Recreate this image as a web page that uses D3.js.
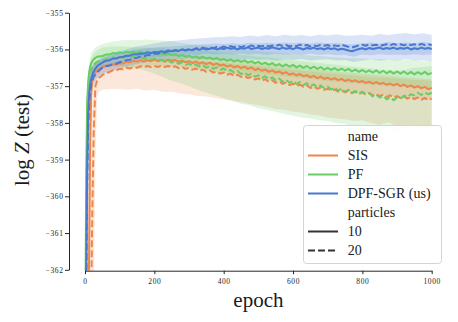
<!DOCTYPE html>
<html><head><meta charset="utf-8">
<script src="https://cdn.jsdelivr.net/npm/d3@7"></script>
<style>body{margin:0;background:#fff}</style>
</head><body><svg id="c" width="458" height="322"></svg>
<script>
// ---------------- data ----------------
const methods = ["SIS", "PF", "DPF-SGR (us)"];
const particles = ["10", "20"];
const xTicks = [0, 200, 400, 600, 800, 1000];
const yTicks = [-362, -361, -360, -359, -358, -357, -356, -355];

const epochs = [0,3,6,9,12,15,18,21,25,30,35,40,
50,60,70,80,90,100,110,120,130,140,150,160,170,180,190,200,210,220,230,240,
250,260,270,280,290,300,310,320,330,340,350,360,370,380,390,400,410,420,430,440,
450,460,470,480,490,500,510,520,530,540,550,560,570,580,590,600,610,620,630,640,
650,660,670,680,690,700,710,720,730,740,750,760,770,780,790,800,810,820,830,840,
850,860,870,880,890,900,910,920,930,940,950,960,970,980,990,1000];

const sis10 = [-372,-370,-367,-364,-361.5,-358.5,-357.2,-356.85,-356.7,-356.62,-356.57,-356.53,
-356.48,-356.45,-356.44,-356.41,-356.41,-356.38,-356.38,-356.34,-356.35,-356.31,
-356.33,-356.29,-356.33,-356.29,-356.32,-356.28,-356.32,-356.29,-356.33,-356.28,
-356.31,-356.29,-356.34,-356.30,-356.35,-356.32,-356.37,-356.33,-356.39,-356.35,
-356.40,-356.36,-356.42,-356.38,-356.44,-356.41,-356.47,-356.43,-356.49,-356.45,
-356.51,-356.47,-356.53,-356.49,-356.56,-356.52,-356.58,-356.55,-356.61,-356.57,
-356.63,-356.60,-356.66,-356.62,-356.69,-356.65,-356.71,-356.67,-356.73,-356.70,
-356.76,-356.72,-356.78,-356.74,-356.80,-356.77,-356.82,-356.78,-356.84,-356.80,
-356.86,-356.82,-356.87,-356.84,-356.89,-356.86,-356.91,-356.88,-356.93,-356.89,
-356.94,-356.91,-356.96,-356.93,-356.98,-356.94,-357.00,-356.96,-357.02,-356.98,
-357.04,-357.00,-357.06,-357.02,-357.08,-357.05];
const sis20 = [-375,-373,-370,-368,-366,-364,-362.6,-360.5,-358.3,-357.0,-356.85,-356.78,
-356.70,-356.64,-356.62,-356.57,-356.57,-356.53,-356.54,-356.50,-356.52,-356.48,
-356.50,-356.46,-356.49,-356.45,-356.48,-356.45,-356.48,-356.44,-356.48,-356.45,
-356.49,-356.46,-356.51,-356.48,-356.53,-356.50,-356.55,-356.52,-356.58,-356.55,
-356.61,-356.57,-356.63,-356.60,-356.66,-356.63,-356.69,-356.66,-356.72,-356.69,
-356.75,-356.72,-356.78,-356.75,-356.82,-356.79,-356.85,-356.81,-356.88,-356.84,
-356.91,-356.87,-356.94,-356.90,-356.97,-356.93,-356.99,-356.96,-357.02,-356.98,
-357.05,-357.01,-357.07,-357.04,-357.10,-357.07,-357.12,-357.09,-357.15,-357.11,
-357.17,-357.13,-357.19,-357.15,-357.21,-357.17,-357.23,-357.19,-357.25,-357.21,
-357.27,-357.23,-357.29,-357.25,-357.31,-357.27,-357.32,-357.28,-357.34,-357.30,
-357.35,-357.31,-357.37,-357.32,-357.38,-357.34];
const pf10 = [-366,-360,-357.5,-356.9,-356.62,-356.47,-356.38,-356.32,-356.27,-356.23,-356.2,-356.19,
-356.18,-356.14,-356.14,-356.10,-356.11,-356.08,-356.10,-356.06,-356.09,-356.06,
-356.09,-356.06,-356.10,-356.07,-356.11,-356.09,-356.13,-356.10,-356.14,-356.11,
-356.15,-356.13,-356.18,-356.15,-356.20,-356.17,-356.22,-356.19,-356.24,-356.20,
-356.25,-356.22,-356.27,-356.23,-356.29,-356.26,-356.31,-356.27,-356.33,-356.29,
-356.34,-356.30,-356.36,-356.32,-356.38,-356.34,-356.40,-356.36,-356.42,-356.37,
-356.44,-356.40,-356.46,-356.41,-356.47,-356.42,-356.49,-356.44,-356.50,-356.45,
-356.52,-356.47,-356.53,-356.48,-356.55,-356.50,-356.56,-356.51,-356.57,-356.52,
-356.58,-356.53,-356.60,-356.55,-356.61,-356.56,-356.62,-356.57,-356.63,-356.57,
-356.64,-356.58,-356.65,-356.59,-356.66,-356.60,-356.66,-356.60,-356.67,-356.61,
-356.68,-356.62,-356.67,-356.61,-356.68,-356.64];
const pf20 = [-367,-361,-357.9,-357.1,-356.8,-356.65,-356.55,-356.48,-356.42,-356.37,-356.34,-356.32,
-356.30,-356.27,-356.26,-356.22,-356.24,-356.20,-356.23,-356.19,-356.23,-356.20,
-356.24,-356.21,-356.26,-356.23,-356.28,-356.25,-356.31,-356.28,-356.33,-356.30,
-356.36,-356.33,-356.39,-356.35,-356.42,-356.39,-356.45,-356.41,-356.47,-356.43,
-356.50,-356.46,-356.53,-356.49,-356.56,-356.52,-356.60,-356.56,-356.63,-356.59,
-356.67,-356.62,-356.70,-356.66,-356.74,-356.70,-356.78,-356.73,-356.81,-356.76,
-356.84,-356.79,-356.88,-356.83,-356.91,-356.86,-356.94,-356.89,-356.97,-356.92,
-357.00,-356.95,-357.03,-356.98,-357.06,-357.01,-357.09,-357.04,-357.12,-357.07,
-357.15,-357.10,-357.18,-357.13,-357.21,-357.15,-357.23,-357.19,-357.28,-357.23,
-357.31,-357.26,-357.36,-357.30,-357.38,-357.31,-357.34,-357.26,-357.30,-357.22,
-357.25,-357.18,-357.24,-357.17,-357.22,-357.18];
const dpf10 = [-368,-363,-359.5,-357.8,-357.2,-356.95,-356.8,-356.7,-356.6,-356.52,-356.46,-356.42,
-356.36,-356.31,-356.30,-356.25,-356.25,-356.21,-356.20,-356.17,-356.17,-356.13,
-356.14,-356.11,-356.12,-356.08,-356.10,-356.07,-356.08,-356.05,-356.07,-356.03,
-356.05,-356.02,-356.04,-356.00,-356.03,-356.00,-356.02,-355.98,-356.01,-355.97,
-356.00,-355.98,-355.96,-356.00,-355.97,-355.99,-355.95,-355.98,-355.96,-356.00,
-355.96,-355.98,-355.94,-355.99,-355.97,-355.95,-355.99,-355.96,-355.98,-355.94,
-355.97,-355.99,-355.95,-355.98,-355.96,-355.99,-355.95,-355.97,-356.00,-355.96,
-355.98,-355.95,-355.99,-355.97,-356.00,-355.96,-355.99,-355.97,-356.01,-355.98,
-356.00,-356.03,-356.05,-356.02,-355.99,-355.97,-356.00,-355.96,-355.99,-355.97,
-355.95,-355.99,-355.96,-355.98,-355.95,-355.99,-355.96,-355.98,-355.95,-356.00,
-355.97,-355.99,-355.95,-355.98,-355.96,-355.99];
const dpf20 = [-368,-363.5,-360,-358.2,-357.5,-357.15,-356.95,-356.85,-356.75,-356.68,-356.62,-356.58,
-356.50,-356.46,-356.44,-356.40,-356.39,-356.35,-356.33,-356.29,-356.28,-356.24,
-356.23,-356.19,-356.19,-356.15,-356.15,-356.11,-356.12,-356.08,-356.09,-356.05,
-356.06,-356.02,-356.04,-356.00,-356.02,-355.99,-356.01,-355.97,-355.99,-355.95,
-355.98,-355.94,-355.97,-355.93,-355.96,-355.92,-355.95,-355.91,-355.94,-355.90,
-355.94,-355.91,-355.93,-355.89,-355.93,-355.90,-355.92,-355.88,-355.92,-355.89,
-355.91,-355.87,-355.91,-355.88,-355.92,-355.89,-355.91,-355.87,-355.90,-355.88,
-355.92,-355.89,-355.91,-355.87,-355.90,-355.88,-355.92,-355.89,-355.91,-355.87,
-355.90,-355.93,-355.95,-355.92,-355.89,-355.87,-355.90,-355.86,-355.89,-355.87,
-355.91,-355.88,-355.86,-355.89,-355.85,-355.88,-355.86,-355.89,-355.85,-355.88,
-355.86,-355.89,-355.85,-355.88,-355.86,-355.88];

const bandEpochs = [0,3,6,9,12,15,18,21,25,30,35,40,
50,75,100,125,150,175,200,225,250,275,300,325,350,375,400,425,450,475,500,525,
550,575,600,625,650,675,700,725,750,775,800,825,850,875,900,925,950,975,1000];

const sis10Lo = [-376,-374,-371,-368,-365,-361.5,-358.5,-357.3,-356.95,-356.82,-356.75,-356.7,
-356.64,-356.58,-356.53,-356.50,-356.47,-356.45,-356.44,-356.45,-356.46,-356.48,
-356.50,-356.53,-356.57,-356.60,-356.64,-356.67,-356.71,-356.75,-356.79,-356.83,
-356.86,-356.90,-356.94,-356.97,-357.00,-357.04,-357.07,-357.10,-357.13,-357.16,
-357.18,-357.21,-357.23,-357.26,-357.28,-357.30,-357.33,-357.35,-357.38];
const sis10Hi = [-368,-366,-363,-360,-358.5,-357.3,-356.75,-356.55,-356.45,-356.4,-356.36,-356.33,
-356.30,-356.25,-356.22,-356.18,-356.16,-356.15,-356.13,-356.13,-356.13,-356.15,
-356.16,-356.18,-356.20,-356.22,-356.25,-356.28,-356.30,-356.33,-356.36,-356.39,
-356.42,-356.45,-356.48,-356.50,-356.53,-356.55,-356.58,-356.60,-356.62,-356.64,
-356.66,-356.68,-356.70,-356.72,-356.74,-356.76,-356.78,-356.80,-356.82];
const sis20Lo = [-380,-378,-375,-373,-371,-369,-367,-365,-363,-359,-357.3,-357.15,
-357.10,-357.08,-357.08,-357.10,-357.07,-357.12,-357.10,-357.15,-357.15,-357.20,
-357.22,-357.27,-357.28,-357.32,-357.36,-357.40,-357.44,-357.48,-357.52,-357.56,
-357.62,-357.64,-357.70,-357.72,-357.77,-357.80,-357.85,-357.88,-357.90,-357.95,
-357.93,-358.00,-358.05,-357.98,-358.10,-358.05,-358.12,-358.10,-358.15];
const sis20Hi = [-372,-370,-367,-365,-363,-361,-359,-357.6,-356.9,-356.65,-356.55,-356.48,
-356.42,-356.35,-356.30,-356.28,-356.27,-356.25,-356.25,-356.25,-356.26,-356.27,
-356.28,-356.30,-356.32,-356.34,-356.36,-356.38,-356.41,-356.43,-356.46,-356.48,
-356.51,-356.53,-356.56,-356.58,-356.60,-356.62,-356.65,-356.67,-356.69,-356.71,
-356.73,-356.75,-356.77,-356.78,-356.80,-356.81,-356.83,-356.84,-356.86];
const pf10Lo = [-369,-364,-359.5,-357.8,-357.1,-356.85,-356.7,-356.6,-356.5,-356.45,-356.4,-356.37,
-356.33,-356.28,-356.25,-356.23,-356.23,-356.25,-356.27,-356.30,-356.32,-356.36,
-356.38,-356.42,-356.45,-356.48,-356.52,-356.55,-356.58,-356.62,-356.64,-356.68,
-356.70,-356.73,-356.76,-356.78,-356.80,-356.84,-356.86,-356.88,-356.90,-356.93,
-356.94,-356.96,-356.98,-357.00,-357.00,-357.02,-357.04,-357.03,-357.05];
const pf10Hi = [-364,-359,-357.2,-356.6,-356.35,-356.2,-356.1,-356.05,-356.0,-355.95,-355.92,-355.9,
-355.85,-355.8,-355.76,-355.74,-355.75,-355.73,-355.75,-355.76,-355.78,-355.82,
-355.85,-355.87,-355.90,-355.92,-355.95,-355.97,-356.00,-356.02,-356.05,-356.07,
-356.09,-356.11,-356.13,-356.15,-356.17,-356.18,-356.20,-356.21,-356.23,-356.24,
-356.25,-356.26,-356.27,-356.28,-356.28,-356.29,-356.30,-356.30,-356.31];
const pf20Lo = [-370,-365,-360,-358.3,-357.5,-357.15,-356.95,-356.82,-356.72,-356.65,-356.6,-356.56,
-356.52,-356.47,-356.46,-356.48,-356.52,-356.58,-356.66,-356.75,-356.85,-356.92,
-357.00,-357.10,-357.18,-357.25,-357.32,-357.40,-357.48,-357.52,-357.60,-357.65,
-357.70,-357.76,-357.80,-357.85,-357.88,-357.92,-357.95,-358.00,-358.03,-358.10,
-358.08,-358.15,-358.20,-358.12,-358.22,-358.15,-358.10,-358.18,-358.05];
const pf20Hi = [-365,-359,-357.4,-356.8,-356.5,-356.35,-356.25,-356.18,-356.12,-356.07,-356.03,-356.0,
-355.95,-355.92,-355.92,-355.93,-355.95,-355.95,-355.97,-355.97,-356.00,-356.00,
-356.02,-356.03,-356.05,-356.07,-356.10,-356.12,-356.15,-356.17,-356.20,-356.22,
-356.25,-356.27,-356.30,-356.32,-356.35,-356.37,-356.40,-356.42,-356.45,-356.47,
-356.50,-356.52,-356.55,-356.57,-356.58,-356.55,-356.50,-356.48,-356.45];
const dpf10Lo = [-370,-366,-362,-359,-357.8,-357.3,-357.05,-356.9,-356.8,-356.7,-356.62,-356.57,
-356.50,-356.42,-356.36,-356.30,-356.27,-356.24,-356.20,-356.20,-356.17,-356.17,
-356.14,-356.15,-356.12,-356.14,-356.12,-356.14,-356.11,-356.14,-356.12,-356.15,
-356.12,-356.14,-356.13,-356.15,-356.12,-356.15,-356.13,-356.16,-356.15,-356.20,
-356.14,-356.16,-356.13,-356.15,-356.14,-356.16,-356.13,-356.15,-356.14];
const dpf10Hi = [-366,-360,-357.5,-356.9,-356.7,-356.6,-356.52,-356.47,-356.42,-356.37,-356.33,-356.3,
-356.24,-356.16,-356.10,-356.04,-356.00,-355.97,-355.95,-355.93,-355.92,-355.90,
-355.88,-355.87,-355.86,-355.84,-355.85,-355.83,-355.85,-355.82,-355.84,-355.82,
-355.84,-355.81,-355.83,-355.82,-355.84,-355.81,-355.83,-355.82,-355.85,-355.86,
-355.83,-355.81,-355.84,-355.80,-355.83,-355.81,-355.84,-355.80,-355.83];
const dpf20Lo = [-371,-367,-363,-360,-358.5,-357.7,-357.3,-357.1,-356.95,-356.87,-356.8,-356.75,
-356.68,-356.60,-356.52,-356.45,-356.40,-356.35,-356.31,-356.30,-356.27,-356.27,
-356.25,-356.28,-356.26,-356.29,-356.27,-356.30,-356.28,-356.26,-356.29,-356.27,
-356.30,-356.27,-356.29,-356.26,-356.30,-356.28,-356.27,-356.30,-356.29,-356.34,
-356.30,-356.27,-356.31,-356.28,-356.30,-356.27,-356.31,-356.29,-356.32];
const dpf20Hi = [-366,-360.5,-358,-357,-356.7,-356.58,-356.5,-356.44,-356.39,-356.34,-356.3,-356.27,
-356.20,-356.12,-356.05,-355.98,-355.92,-355.88,-355.84,-355.80,-355.77,-355.75,
-355.72,-355.70,-355.69,-355.67,-355.66,-355.64,-355.66,-355.62,-355.65,-355.61,
-355.64,-355.60,-355.63,-355.61,-355.64,-355.60,-355.62,-355.59,-355.63,-355.62,
-355.60,-355.63,-355.58,-355.61,-355.57,-355.55,-355.59,-355.56,-355.60];

const colors = {"SIS": "#ee854a", "PF": "#6acc64", "DPF-SGR (us)": "#4878d0"};

// ---------------- chart ----------------
const FONT = '"Liberation Serif"';
const series = [
  {m: "SIS", p: "10", mean: sis10, lo: sis10Lo, hi: sis10Hi},
  {m: "SIS", p: "20", mean: sis20, lo: sis20Lo, hi: sis20Hi},
  {m: "PF", p: "10", mean: pf10, lo: pf10Lo, hi: pf10Hi},
  {m: "PF", p: "20", mean: pf20, lo: pf20Lo, hi: pf20Hi},
  {m: "DPF-SGR (us)", p: "10", mean: dpf10, lo: dpf10Lo, hi: dpf10Hi},
  {m: "DPF-SGR (us)", p: "20", mean: dpf20, lo: dpf20Lo, hi: dpf20Hi}
];

const svg = d3.select("#c");
const x = d3.scaleLinear().domain([0, 1000]).range([85, 431.7]);
const y = d3.scaleLinear().domain([-362, -355]).range([269.8, 12.7]);
const dashFor = p => p === "20" ? "7,3" : null;

svg.append("defs").append("clipPath").attr("id", "clip")
  .append("rect").attr("x", 84).attr("y", 10).attr("width", 350).attr("height", 260.5);
const plot = svg.append("g").attr("clip-path", "url(#clip)");

const area = d3.area()
  .x((d, i) => x(bandEpochs[i]))
  .y0(d => y(d[0])).y1(d => y(d[1]));
const line = d3.line().x((d, i) => x(epochs[i])).y(d => y(d));

series.forEach(s => {
  plot.append("path")
    .datum(s.lo.map((v, i) => [v, s.hi[i]]))
    .attr("d", area)
    .attr("fill", colors[s.m]).attr("fill-opacity", 0.2).attr("stroke", "none");
});
series.forEach(s => {
  plot.append("path")
    .datum(s.mean)
    .attr("d", line)
    .attr("fill", "none").attr("stroke", colors[s.m])
    .attr("stroke-width", 2).attr("stroke-linejoin", "round")
    .attr("stroke-dasharray", dashFor(s.p));
});

// axes
const yAxis = svg.append("g").attr("transform", "translate(69,0)")
  .call(d3.axisLeft(y).tickValues(yTicks).tickSize(4).tickSizeOuter(0)
    .tickFormat(d => "\u2212" + Math.abs(d)));
const xAxis = svg.append("g").attr("transform", "translate(0,270.7)")
  .call(d3.axisBottom(x).tickValues(xTicks).tickSize(3.5).tickSizeOuter(0)
    .tickFormat(d => String(d)));
[yAxis, xAxis].forEach(g => {
  g.attr("font-family", "Liberation Serif").attr("font-size", 7.5);
  g.select(".domain").attr("stroke", "#262626").attr("stroke-width", 1);
  g.selectAll(".tick line").attr("stroke", "#262626").attr("stroke-width", 1);
  g.selectAll(".tick text").attr("fill", "#262626").attr("font-size", 7.5)
    .attr("letter-spacing", 0.6);
});
yAxis.selectAll(".tick text").attr("x", -5.5);
xAxis.selectAll(".tick text").attr("y", 8);

// axis titles
svg.append("text").attr("x", 258.4).attr("y", 307)
  .attr("font-size", 21).attr("fill", "#1a1a1a")
  .attr("text-anchor", "middle").text("epoch");
const yl = svg.append("text")
  .attr("font-size", 21).attr("fill", "#1a1a1a")
  .attr("transform", "translate(29,140) rotate(-90)")
  .attr("text-anchor", "middle");
yl.append("tspan").text("log ");
yl.append("tspan").attr("class", "it").text("Z");
yl.append("tspan").text(" (test)");

// legend
const lg = svg.append("g");
lg.append("rect").attr("x", 303.5).attr("y", 125.5).attr("width", 138).attr("height", 138)
  .attr("rx", 3).attr("fill", "#fff").attr("fill-opacity", 0.85)
  .attr("stroke", "#d4d4d4").attr("stroke-width", 1);
const legendItems = [
  {label: "name"},
  ...methods.map(m => ({label: m, color: colors[m], dash: null})),
  {label: "particles"},
  ...particles.map(p => ({label: p, color: "#333333", dash: dashFor(p)}))
];
legendItems.forEach((it, i) => {
  const cy = 136.5 + i * 19;
  if (it.color) {
    lg.append("line").attr("x1", 308).attr("x2", 338).attr("y1", cy).attr("y2", cy)
      .attr("stroke", it.color).attr("stroke-width", 2).attr("stroke-dasharray", it.dash);
  }
  lg.append("text").attr("x", 347.7).attr("y", cy).attr("dy", "0.33em")
    .attr("font-size", 14).attr("fill", "#1a1a1a")
    .text(it.label);
});

// force the serif face on every text, overriding any injected stylesheet
svg.selectAll("text, tspan").each(function() {
  this.style.setProperty("font-family", FONT, "important");
});
svg.selectAll("tspan.it").each(function() {
  this.style.setProperty("font-style", "italic", "important");
});
</script>
</body></html>
